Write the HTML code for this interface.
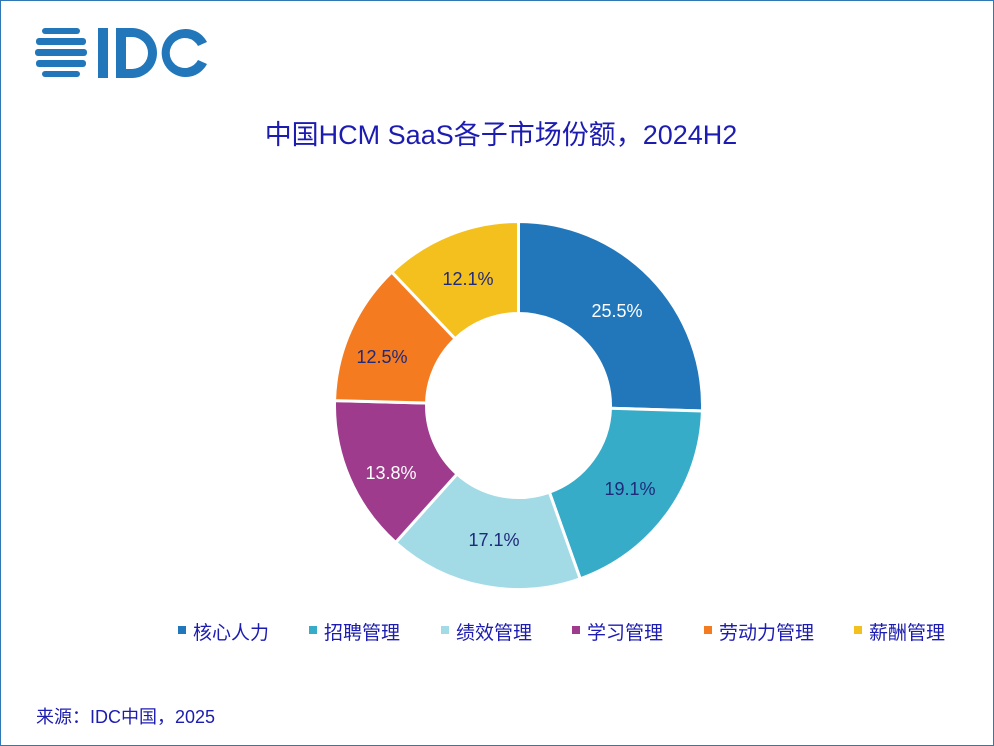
<!DOCTYPE html>
<html><head><meta charset="utf-8"><style>
body{margin:0;width:994px;height:746px;overflow:hidden;background:#fff;font-family:"Liberation Sans","Noto Sans CJK SC",sans-serif}
.frame{position:absolute;left:0;top:0;width:992px;height:744px;border:1px solid #2f78b5}
.t{position:absolute;color:#1c1cb0;white-space:nowrap}
</style></head><body>
<div class="frame"></div>
<svg width="994" height="746" style="position:absolute;left:0;top:0">
 <g fill="#2277bb">
  <rect x="42" y="28" width="38" height="6" rx="3"/>
  <rect x="36" y="38" width="50" height="7" rx="3"/>
  <rect x="35" y="49" width="52" height="7" rx="3"/>
  <rect x="36" y="60" width="50" height="7" rx="3"/>
  <rect x="42" y="71" width="38" height="6" rx="3"/>
  <rect x="98" y="28" width="10" height="50"/>
  <path d="M116 28h16a25 25 0 0 1 0 50h-16z M126 37v32h6a16 16 0 0 0 0-32z" fill-rule="evenodd"/>
  <path d="M207 42a24 24 0 1 0 0 22l-9-4a15 15 0 1 1 0-14z"/>
 </g>
 <g id="pie" stroke="#fff" stroke-width="3"></g>
 <g font-size="18" text-anchor="middle" font-family="Liberation Sans,sans-serif">
  <text x="617" y="317" fill="#fff">25.5%</text>
  <text x="630" y="495" fill="#1f2a7a">19.1%</text>
  <text x="494" y="546" fill="#1f2a7a">17.1%</text>
  <text x="391" y="479" fill="#fff">13.8%</text>
  <text x="382" y="363" fill="#1f2a7a">12.5%</text>
  <text x="468" y="285" fill="#1f2a7a">12.1%</text>
 </g>
 <g>
  <rect x="178" y="626" width="8" height="8" fill="#2277bb"/>
  <rect x="309" y="626" width="8" height="8" fill="#37acc8"/>
  <rect x="441" y="626" width="8" height="8" fill="#a2dae6"/>
  <rect x="572" y="626" width="8" height="8" fill="#9e3b8c"/>
  <rect x="704" y="626" width="8" height="8" fill="#f47b20"/>
  <rect x="854" y="626" width="8" height="8" fill="#f4c01e"/>
 </g>
</svg>
<div class="t" style="left:0;width:1002px;text-align:center;top:113px;font-size:27px">中国HCM SaaS各子市场份额，2024H2</div>
<div class="t" style="left:193px;top:618px;font-size:19px">核心人力</div>
<div class="t" style="left:324px;top:618px;font-size:19px">招聘管理</div>
<div class="t" style="left:456px;top:618px;font-size:19px">绩效管理</div>
<div class="t" style="left:587px;top:618px;font-size:19px">学习管理</div>
<div class="t" style="left:719px;top:618px;font-size:19px">劳动力管理</div>
<div class="t" style="left:869px;top:618px;font-size:19px">薪酬管理</div>
<div class="t" style="left:36px;top:703px;font-size:18px">来源：IDC中国，2025</div>
<script>
var d=[25.5,19.1,17.1,13.8,12.5,12.1],c=["#2277bb","#37acc8","#a2dae6","#9e3b8c","#f47b20","#f4c01e"];
var cx=518.5,cy=405.5,R=184,r=92,a=0,tot=100.1,g=document.getElementById("pie"),s="";
function p(rad,ang){return [cx+rad*Math.sin(ang),cy-rad*Math.cos(ang)];}
for(var i=0;i<6;i++){var a0=a/tot*2*Math.PI;a+=d[i];var a1=a/tot*2*Math.PI;var L=(a1-a0)>Math.PI?1:0;
var A=p(R,a0),B=p(R,a1),C=p(r,a1),D=p(r,a0);
s+='<path fill="'+c[i]+'" d="M'+A+'A'+R+','+R+' 0 '+L+' 1 '+B+'L'+C+'A'+r+','+r+' 0 '+L+' 0 '+D+'Z"/>';}
g.innerHTML=s;
</script>
</body></html>
